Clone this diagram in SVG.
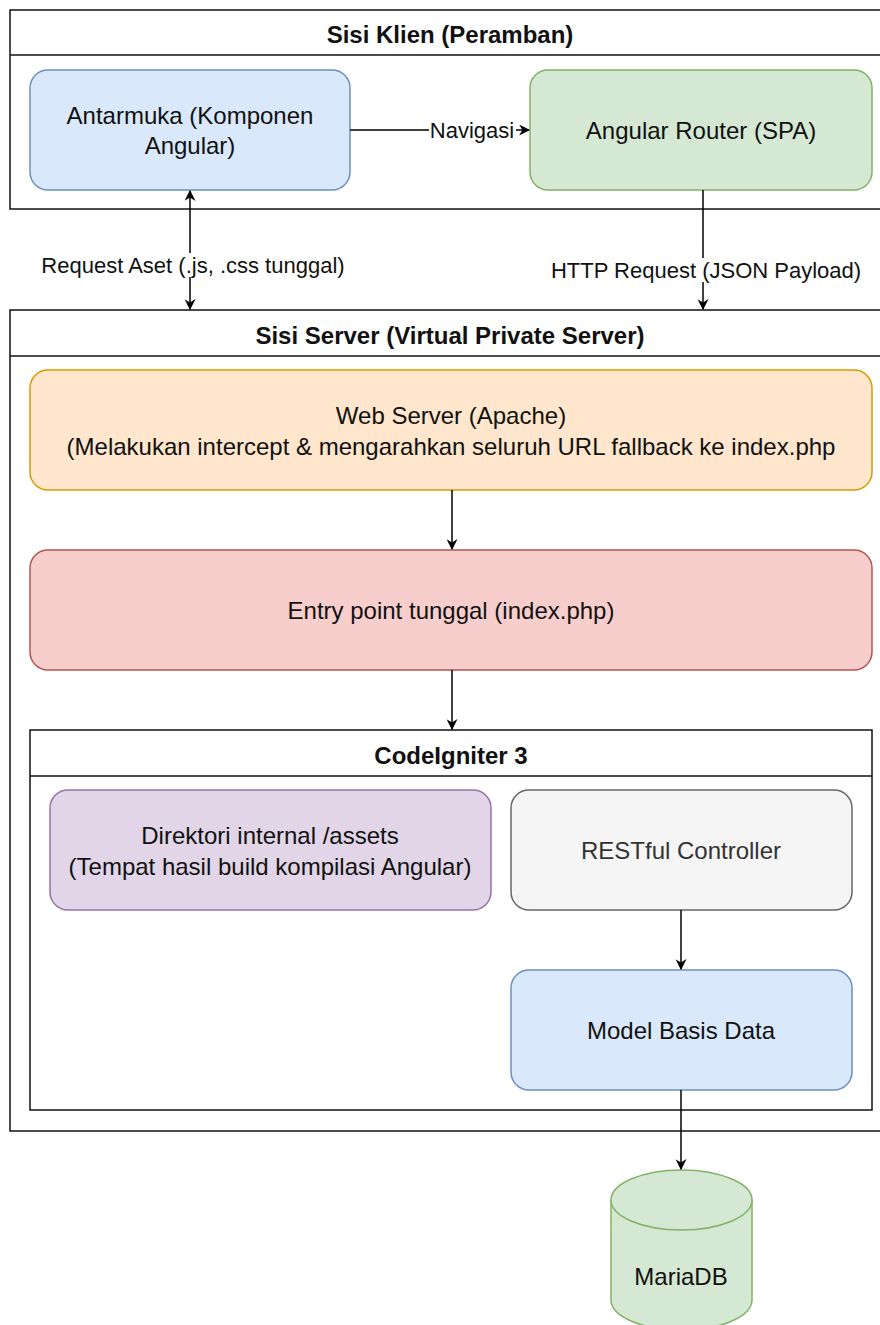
<svg xmlns="http://www.w3.org/2000/svg" width="880" height="1325" viewBox="0 0 880 1325">
<style>
text{font-family:"Liberation Sans",Arial,sans-serif;font-size:24px;fill:#111;text-anchor:middle;dominant-baseline:central}
.t{font-weight:bold}
.c{fill:#fff;stroke:#111;stroke-width:1.5}
.conn{stroke:#000;stroke-width:1.5;fill:none}
.blue{fill:#dae8fc;stroke:#6c8ebf;stroke-width:1.5}
.green{fill:#d5e8d4;stroke:#82b366;stroke-width:1.5}
.orange{fill:#ffe6cc;stroke:#d79b00;stroke-width:1.5}
.red{fill:#f8cecc;stroke:#b85450;stroke-width:1.5}
.purple{fill:#e1d5e7;stroke:#9673a6;stroke-width:1.5}
.gray{fill:#f5f5f5;stroke:#666;stroke-width:1.5}
.lbl{font-size:22px}
</style>
<defs>
<marker id="ah" viewBox="0 0 10 10" refX="9" refY="5" markerWidth="11" markerHeight="11" markerUnits="userSpaceOnUse" orient="auto-start-reverse"><path d="M0,0 L10,5 L0,10 L3,5 Z" fill="#000"/></marker>
</defs>
<g id="klien">
<rect class="c" x="10" y="10" width="880" height="199"/>
<line class="c" x1="10" y1="55" x2="890" y2="55"/>
<text class="t" x="450" y="34">Sisi Klien (Peramban)</text>
</g>
<g id="server">
<rect class="c" x="10" y="310" width="880" height="821"/>
<line class="c" x1="10" y1="356" x2="890" y2="356"/>
<text class="t" x="450" y="335">Sisi Server (Virtual Private Server)</text>
</g>
<g id="antarmuka">
<rect class="blue" x="30" y="70" width="320" height="120" rx="18"/>
<text x="190" y="115">Antarmuka (Komponen</text>
<text x="190" y="145">Angular)</text>
</g>
<g id="router">
<rect class="green" x="530" y="70" width="342" height="120" rx="18"/>
<text x="701" y="130">Angular Router (SPA)</text>
</g>
<g id="webserver">
<rect class="orange" x="30" y="370" width="842" height="120" rx="18"/>
<text x="451" y="415">Web Server (Apache)</text>
<text x="451" y="446">(Melakukan intercept &amp; mengarahkan seluruh URL fallback ke index.php</text>
</g>
<g id="entry">
<rect class="red" x="30" y="550" width="842" height="120" rx="18"/>
<text x="451" y="610">Entry point tunggal (index.php)</text>
</g>
<g id="codeigniter">
<rect class="c" x="30" y="730" width="842" height="380"/>
<line class="c" x1="30" y1="776" x2="872" y2="776"/>
<text class="t" x="451" y="755">CodeIgniter 3</text>
</g>
<g id="direktori">
<rect class="purple" x="50" y="790" width="441" height="120" rx="18"/>
<text x="270" y="835">Direktori internal /assets</text>
<text x="270" y="866">(Tempat hasil build kompilasi Angular)</text>
</g>
<g id="restful">
<rect class="gray" x="511" y="790" width="341" height="120" rx="18"/>
<text x="681" y="850" style="fill:#333">RESTful Controller</text>
</g>
<g id="model">
<rect class="blue" x="511" y="970" width="341" height="120" rx="18"/>
<text x="681" y="1030">Model Basis Data</text>
</g>
<g id="mariadb">
<path class="green" d="M611,1200 A70.5,30 0 0 1 752,1200 L752,1300 A70.5,30 0 0 1 611,1300 Z"/>
<path class="green" d="M611,1200 A70.5,30 0 0 0 752,1200" fill="none"/>
<text x="681" y="1276">MariaDB</text>
</g>
<g id="connectors">
<line class="conn" x1="350" y1="130" x2="529" y2="130" marker-end="url(#ah)"/>
<rect x="429" y="120" width="87" height="22" fill="#fff"/>
<text class="lbl" x="472" y="130">Navigasi</text>
<line class="conn" x1="190" y1="191" x2="190" y2="309" marker-start="url(#ah)" marker-end="url(#ah)"/>
<rect x="44" y="253" width="300" height="24" fill="#fff"/>
<text class="lbl" x="193" y="265">Request Aset (.js, .css tunggal)</text>
<line class="conn" x1="703" y1="190" x2="703" y2="309" marker-end="url(#ah)"/>
<rect x="549" y="258" width="314" height="24" fill="#fff"/>
<text class="lbl" x="706" y="270">HTTP Request (JSON Payload)</text>
<line class="conn" x1="452" y1="490" x2="452" y2="549" marker-end="url(#ah)"/>
<line class="conn" x1="452" y1="670" x2="452" y2="729" marker-end="url(#ah)"/>
<line class="conn" x1="681" y1="910" x2="681" y2="969" marker-end="url(#ah)"/>
<line class="conn" x1="681" y1="1090" x2="681" y2="1169" marker-end="url(#ah)"/>
</g>
</svg>
